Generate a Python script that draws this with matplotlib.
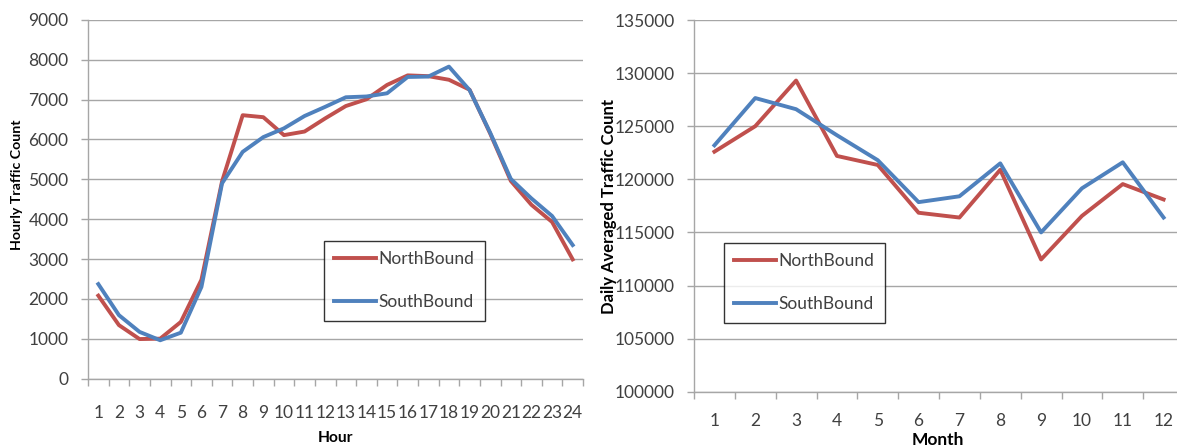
import matplotlib
matplotlib.use("Agg")
import matplotlib.pyplot as plt
import numpy as np

# hourly traffic (left chart)
hours = np.arange(1, 25)
north_hour = [2080, 1340, 990, 1000, 1420, 2480, 4950, 6610, 6560, 6110, 6200, 6530,
              6840, 7010, 7370, 7610, 7590, 7500, 7250, 6150, 4960, 4360, 3930, 2990]
south_hour = [2370, 1590, 1170, 960, 1150, 2300, 4900, 5690, 6060, 6280, 6590, 6820,
              7060, 7080, 7160, 7570, 7580, 7830, 7240, 6170, 5010, 4520, 4080, 3350]

# monthly averaged traffic (right chart)
months = np.arange(1, 13)
north_month = [122600, 125000, 129300, 122200, 121350, 116850, 116400, 120900,
               112450, 116550, 119550, 118100]
south_month = [123200, 127650, 126600, 124150, 121800, 117850, 118400, 121500,
               115000, 119150, 121600, 116400]

RED = '#C0504D'
BLUE = '#4F81BD'
GRID = '#A6A6A6'
TXT = '#404040'

plt.rcParams['font.family'] = ['Lato', 'DejaVu Sans']
W, H = 1177, 447
fig = plt.figure(figsize=(W / 100, H / 100), dpi=100)


def px_axes(x0, y0, x1, y1):
    return fig.add_axes([x0 / W, 1 - y1 / H, (x1 - x0) / W, (y1 - y0) / H])


def style(ax, n, ylab, xlab, ymin, ymax, step, xpad, lab_fs, xlab_fs):
    for s in ['top', 'right']:
        ax.spines[s].set_visible(False)
    for s in ['left', 'bottom']:
        ax.spines[s].set_color(GRID)
        ax.spines[s].set_linewidth(1.0)
    ax.set_ylim(ymin, ymax)
    ax.set_yticks(np.arange(ymin, ymax + 1, step))
    ax.yaxis.grid(True, color=GRID, linewidth=1.0)
    ax.set_axisbelow(True)
    ax.set_xlim(0.5, n + 0.5)
    ax.set_xticks(np.arange(0.5, n + 1, 1))
    ax.set_xticklabels([])
    ax.set_xticks(np.arange(1, n + 1), minor=True)
    ax.set_xticklabels([str(i) for i in range(1, n + 1)], minor=True)
    ax.tick_params(axis='x', which='major', length=5, color=GRID, width=1.0)
    ax.tick_params(axis='x', which='minor', length=0, pad=xpad, labelsize=12.5, labelcolor=TXT)
    ax.tick_params(axis='y', length=5, color=GRID, width=1.0, pad=9, labelsize=12.5, labelcolor=TXT)
    ax.set_ylabel(ylab, fontsize=lab_fs, fontweight='bold', color='black')
    ax.set_xlabel(xlab, fontsize=xlab_fs, fontweight='bold', color='black')


def legend(ax, x0, y0):
    lg = ax.legend(loc='upper left', bbox_to_anchor=(x0 / W, 1 - y0 / H),
                   bbox_transform=fig.transFigure, fancybox=False, frameon=True,
                   fontsize=12.5, handlelength=2.4, handletextpad=0.15, labelspacing=1.55,
                   borderpad=0.6, borderaxespad=0, labelcolor=TXT)
    lg.get_frame().set_edgecolor('black')
    lg.get_frame().set_linewidth(1.0)


ax1 = px_axes(88, 20, 583, 378.5)
ax1.plot(hours, north_hour, color=RED, lw=2.8, label='NorthBound')
ax1.plot(hours, south_hour, color=BLUE, lw=2.8, label='SouthBound')
style(ax1, 24, 'Hourly Traffic Count', 'Hour', 0, 9000, 1000, 19, 10.2, 11.2)
ax1.xaxis.set_label_coords(335.5 / W, 1 - 431 / H, transform=fig.transFigure)
ax1.yaxis.set_label_coords(23 / W, 1 - 185 / H, transform=fig.transFigure)
legend(ax1, 324, 241)

ax2 = px_axes(694, 20, 1184, 391.7)
ax2.plot(months, north_month, color=RED, lw=2.8, label='NorthBound')
ax2.plot(months, south_month, color=BLUE, lw=2.8, label='SouthBound')
style(ax2, 12, 'Daily Averaged Traffic Count', 'Month', 100000, 135000, 5000, 15, 12, 12.5)
ax2.xaxis.set_label_coords(938 / W, 1 - 432 / H, transform=fig.transFigure)
ax2.yaxis.set_label_coords(617 / W, 1 - 206 / H, transform=fig.transFigure)
legend(ax2, 724, 243)

fig.savefig('out.png', dpi=100)
